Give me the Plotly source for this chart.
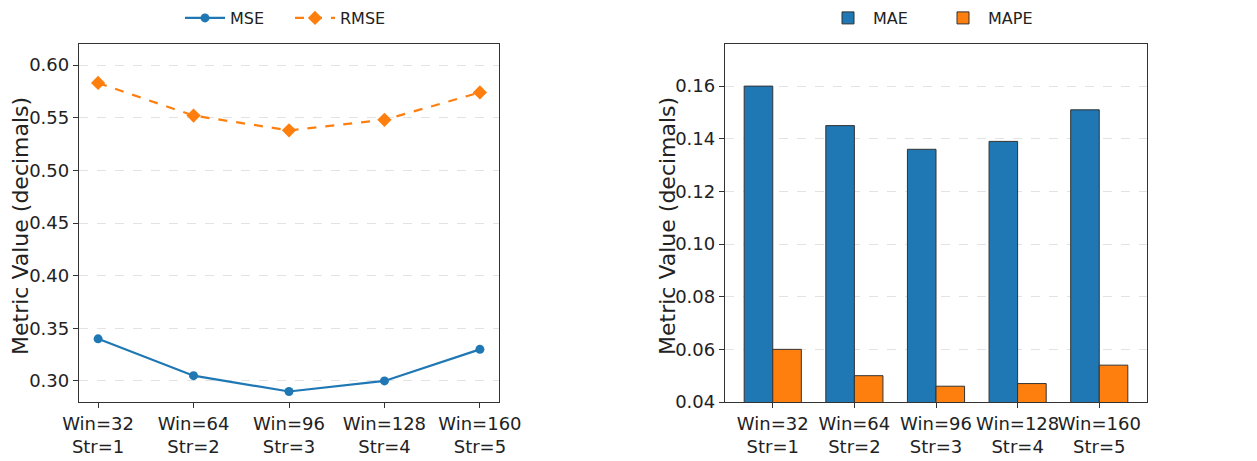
import plotly.graph_objects as go

categories = ["Win=32<br>Str=1", "Win=64<br>Str=2", "Win=96<br>Str=3", "Win=128<br>Str=4", "Win=160<br>Str=5"]
mse = [0.340, 0.305, 0.290, 0.300, 0.330]
rmse = [0.583, 0.552, 0.538, 0.548, 0.574]
mae = [0.160, 0.145, 0.136, 0.139, 0.151]
mape = [0.060, 0.050, 0.046, 0.047, 0.054]
left_ticks = [0.30, 0.35, 0.40, 0.45, 0.50, 0.55, 0.60]
right_ticks = [0.04, 0.06, 0.08, 0.10, 0.12, 0.14, 0.16]

BLUE = "#1f77b4"
ORANGE = "#ff7f0e"
DARK = "#333333"
FONT = "DejaVu Sans"

W, H = 1257, 461
def px(x):
    return x / W
def py(y):
    return 1 - y / H

fig = go.Figure()

fig.add_trace(go.Scatter(x=categories, y=mse, name="MSE", mode="lines+markers",
                         line=dict(color=BLUE, width=2.2),
                         marker=dict(symbol="circle", size=9, color=BLUE),
                         xaxis="x", yaxis="y", legend="legend"))
fig.add_trace(go.Scatter(x=categories, y=rmse, name="RMSE", mode="lines+markers",
                         line=dict(color=ORANGE, width=2.2, dash="dash"),
                         marker=dict(symbol="diamond", size=11, color=ORANGE),
                         xaxis="x", yaxis="y", legend="legend"))

fig.add_trace(go.Bar(x=categories, y=mae, name="MAE",
                     marker=dict(color=BLUE, line=dict(color=DARK, width=1)),
                     xaxis="x2", yaxis="y2", legend="legend2"))
fig.add_trace(go.Bar(x=categories, y=mape, name="MAPE",
                     marker=dict(color=ORANGE, line=dict(color=DARK, width=1)),
                     xaxis="x2", yaxis="y2", legend="legend2"))

ydom = [py(402), py(44)]
axis_common = dict(showline=True, mirror=True, linecolor=DARK, linewidth=1.3,
                   ticks="outside", ticklen=5, tickwidth=1.2, tickcolor=DARK,
                   tickfont=dict(family=FONT, size=18, color="#222222"),
                   automargin=False, zeroline=False)

fig.update_layout(
    width=W, height=H,
    margin=dict(l=0, r=0, t=0, b=0),
    paper_bgcolor="white", plot_bgcolor="white",
    font=dict(family=FONT, color="#222222"),
    barmode="group", bargap=0.3, bargroupgap=0,
    xaxis=dict(domain=[px(79), px(499)], anchor="y", type="category",
               range=[-0.2, 4.2], showgrid=False, tickangle=0, **axis_common),
    yaxis=dict(domain=ydom, anchor="x", range=[0.28, 0.62],
               tickvals=left_ticks, tickformat=".2f",
               showgrid=True, gridcolor="#e3e3e3", gridwidth=0.8, griddash="dash",
               **axis_common),
    xaxis2=dict(domain=[px(725), px(1147)], anchor="y2", type="category",
                range=[-0.585, 4.585], showgrid=False, tickangle=0, **axis_common),
    yaxis2=dict(domain=ydom, anchor="x2", range=[0.04, 0.176],
                tickvals=right_ticks, tickformat=".2f",
                showgrid=True, gridcolor="#e3e3e3", gridwidth=0.8, griddash="dash",
                **axis_common),
    legend=dict(orientation="h", x=px(290), y=py(1), xanchor="center", yanchor="top",
                font=dict(family=FONT, size=16, color="#222222"),
                bgcolor="rgba(0,0,0,0)", itemwidth=40, tracegroupgap=0,
                entrywidth=55),
    legend2=dict(orientation="h", x=px(938), y=py(1), xanchor="center", yanchor="top",
                 font=dict(family=FONT, size=16, color="#222222"),
                 bgcolor="rgba(0,0,0,0)", itemwidth=40, tracegroupgap=0,
                 entrywidth=60),
    annotations=[
        dict(text="Metric Value (decimals)", textangle=-90, x=px(21), y=py(226),
             xref="paper", yref="paper", xanchor="center", yanchor="middle",
             showarrow=False, font=dict(family=FONT, size=22, color="#222222")),
        dict(text="Metric Value (decimals)", textangle=-90, x=px(668), y=py(226),
             xref="paper", yref="paper", xanchor="center", yanchor="middle",
             showarrow=False, font=dict(family=FONT, size=22, color="#222222")),
    ],
)

fig.write_html("out.html", config={"displayModeBar": False},
               post_script="document.body.style.margin='0';document.body.style.overflow='hidden';")
